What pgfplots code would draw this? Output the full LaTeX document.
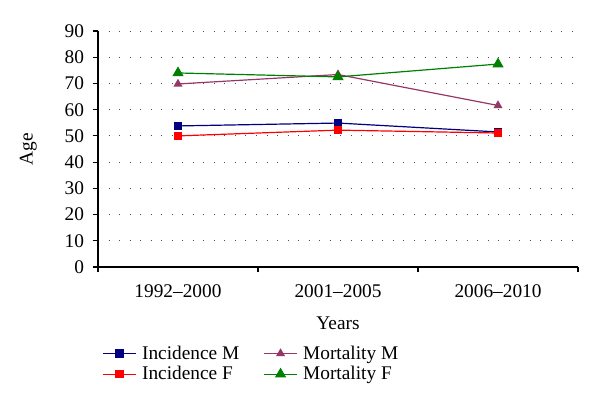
\documentclass[border=0pt]{standalone}
\usepackage{pgfplots}
\pgfplotsset{compat=1.18}
\usepackage{fontspec}
\setmainfont{Liberation Serif}

\definecolor{incm}{RGB}{0,0,128}
\definecolor{incf}{RGB}{255,0,0}
\definecolor{mortm}{RGB}{150,55,105}
\definecolor{mortf}{RGB}{0,128,0}

\begin{document}
\begin{tikzpicture}[x=0.75pt,y=0.75pt]
% frame of the page, 600 x 414 px, axis corner at (98,267)
\path (-98,-147) rectangle (502,267);
\begin{axis}[
  at={(0,0)}, anchor=origin,
  scale only axis,
  width=360pt, height=177pt,
  xmin=0, xmax=3, ymin=0, ymax=90,
  axis lines=left,
  axis line style={-, line width=0.8pt},
  xtick={0,1,2,3},
  x tick label as interval,
  xticklabels={1992--2000,2001--2005,2006--2010},
  ytick={0,10,...,90},
  tick align=outside,
  major tick length=4pt,
  tick style={black, line width=0.8pt},
  ymajorgrids=true,
  xmajorgrids=false,
  grid style={black!70, line width=0.6pt, dash pattern=on 0.6pt off 7.3pt},
  font=\fontsize{14.5}{17}\selectfont,
  /pgf/number format/assume math mode=true,
  xlabel={Years},
  ylabel={Age},
  xticklabel style={yshift=-6pt},
  yticklabel style={xshift=-3pt},
  xlabel style={yshift=-7pt},
  ylabel style={yshift=14pt},
  legend columns=2,
  legend style={draw=none, at={(axis description cs:0,-0.31)}, anchor=north west,
    font=\fontsize{14.5}{17}\selectfont, row sep=0pt,
    /tikz/every even column/.append style={column sep=16pt},
    /tikz/every odd column/.append style={column sep=2pt}},
  legend cell align=left,
  legend image code/.code={
    \draw[mark repeat=2,mark phase=2] plot coordinates {(0pt,0pt) (12.5pt,0pt) (25pt,0pt)};},
]
\addplot[color=incm, line width=0.9pt, mark=square*, mark size=2.6pt] coordinates {
  (0.5,53.8) (1.5,54.9) (2.5,51.5)};
\addlegendentry{Incidence M}
\addplot[color=mortm, line width=0.9pt, mark=triangle*, mark size=3pt] coordinates {
  (0.5,69.8) (1.5,73.4) (2.5,61.6)};
\addlegendentry{Mortality M}
\addplot[color=incf, line width=0.9pt, mark=square*, mark size=2.6pt] coordinates {
  (0.5,50.0) (1.5,52.2) (2.5,51.1)};
\addlegendentry{Incidence F}
\addplot[color=mortf, line width=0.9pt, mark=triangle*, mark size=4pt] coordinates {
  (0.5,74.0) (1.5,72.5) (2.5,77.4)};
\addlegendentry{Mortality F}
\end{axis}
\end{tikzpicture}
\end{document}
